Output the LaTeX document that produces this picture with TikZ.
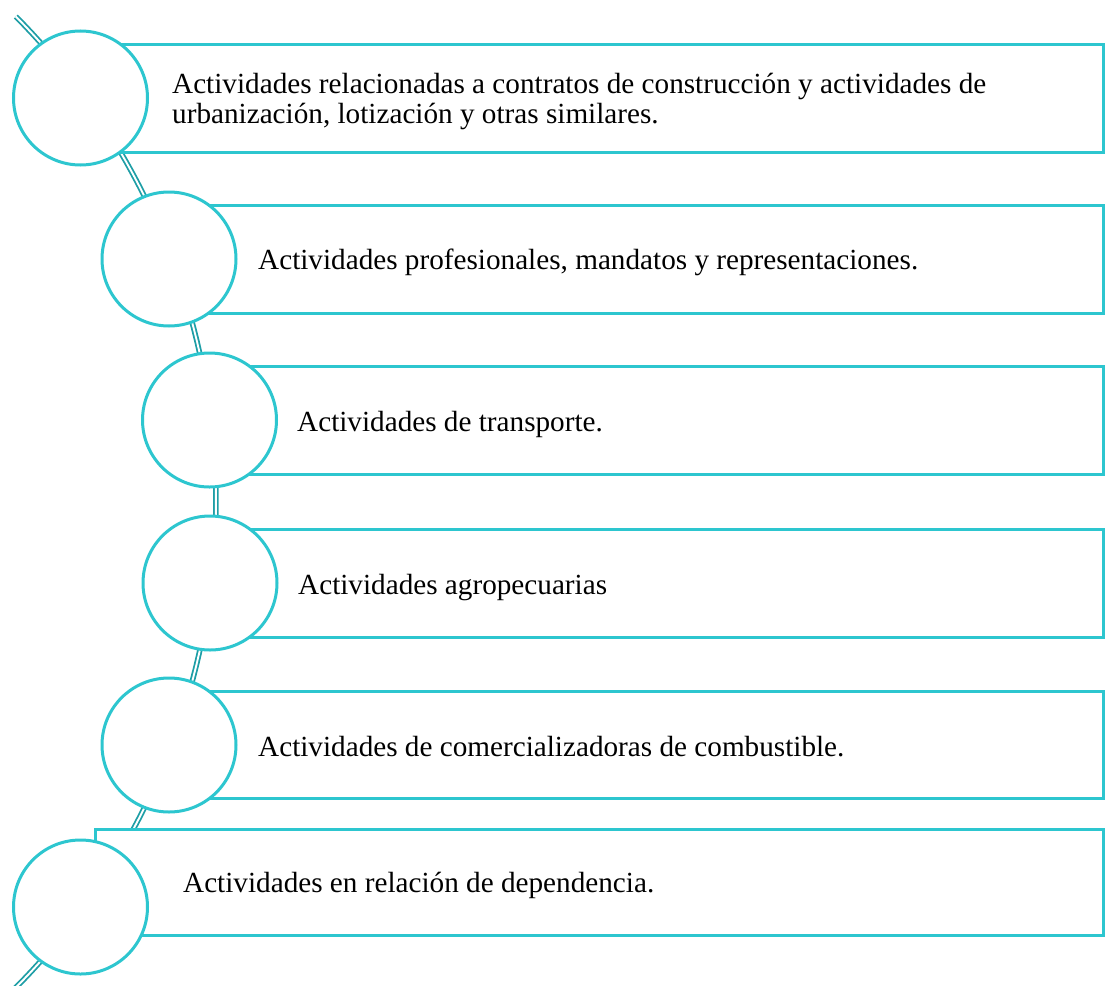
\documentclass[tikz,border=0pt]{standalone}
\usepackage{fontspec}
\setmainfont{Liberation Serif}
\definecolor{ringc}{RGB}{45,198,207}
\definecolor{arcc}{RGB}{30,158,166}
\tikzset{
  ring/.style={circle, draw=ringc, line width=3pt, fill=white, minimum size=134pt, inner sep=0pt},
  bar/.style={draw=ringc, line width=3pt, fill=white},
  lbl/.style={anchor=base west, inner sep=0pt, font=\fontsize{29.2}{30}\selectfont},
  spine/.style={draw=arcc, line width=1.8pt, double=white, double distance=1.9pt}
}
\begin{document}
\begin{tikzpicture}[x=1pt,y=-1pt]
\useasboundingbox (0,0) rectangle (1105,985);
\begin{scope}
\clip (0,0) rectangle (1105,985);
\draw[spine] plot[domain=-44.8:45, samples=90] ({-473+689*cos(\x)},{502+689*sin(\x)});
\end{scope}
% bars
\draw[bar] (95,44) rectangle (1103,152);
\draw[bar] (184,205) rectangle (1103,313);
\draw[bar] (224,366) rectangle (1103,474);
\draw[bar] (225,529) rectangle (1103,637);
\draw[bar] (184,691) rectangle (1103,798);
\draw[bar] (95,829) rectangle (1103,935);
% circles
\node[ring] (c1) at (80.5,98) {};
\node[ring] (c2) at (169,259) {};
\node[ring] (c3) at (209.5,420) {};
\node[ring] (c4) at (210,583) {};
\node[ring] (c5) at (169,745) {};
\node[ring] (c6) at (80.5,907) {};
% labels
\node[lbl] (t1a) at (172,93) {Actividades relacionadas a contratos de construcción y actividades de};
\node[lbl] (t1b) at (172,123) {urbanización, lotización y otras similares.};
\node[lbl] (t2) at (258,269) {Actividades profesionales, mandatos y representaciones.};
\node[lbl] (t3) at (297,431.5) {Actividades de transporte.};
\node[lbl] (t4) at (298,594.5) {Actividades agropecuarias};
\node[lbl] (t5) at (258,756) {Actividades de comercializadoras de combustible.};
\node[lbl] (t6) at (183,892) {Actividades en relación de dependencia.};
\end{tikzpicture}
\end{document}
